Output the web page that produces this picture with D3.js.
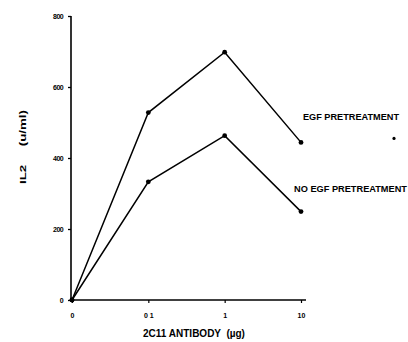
<!DOCTYPE html>
<html><head><meta charset="utf-8">
<script src="https://cdn.jsdelivr.net/npm/d3@7"></script>
<style>
body{margin:0;background:#fff;}
svg{display:block;}
text{font-family:"Liberation Sans",Arial,sans-serif;font-weight:bold;fill:#000;}
</style></head>
<body><svg id="c" width="408" height="342"></svg>
<script>
const doses = ["0","0.1","1","10"];
const doseLabels = ["0","0 1","1","10"];
const egf = [0, 528, 698, 444];
const noEgf = [0, 333, 463, 249];
const yTicks = [0, 200, 400, 600, 800];
const seriesNames = ["EGF PRETREATMENT", "NO EGF PRETREATMENT"];

const svg = d3.select("#c");
const x = d3.scalePoint().domain(doses).range([72, 301]);
const y = d3.scaleLinear().domain([0, 800]).range([300, 16]);

// y axis
const ya = svg.append("g").attr("transform","translate(71,0)")
  .call(d3.axisLeft(y).tickValues(yTicks).tickSize(3).tickPadding(5));
ya.select(".domain").attr("stroke","#000").attr("stroke-width",1.6).attr("d","M0,16V300");
ya.selectAll(".tick line").attr("stroke","#000").attr("stroke-width",1.3);
ya.selectAll(".tick text").style("font-size","7px").style("letter-spacing","-0.6px");

// x axis
const xa = svg.append("g").attr("transform","translate(0,300)")
  .call(d3.axisBottom(x).tickSize(3).tickPadding(10).tickFormat((d,i)=>doseLabels[i]));
xa.select(".domain").attr("stroke","#000").attr("stroke-width",1.5).attr("d","M71,0H306");
xa.selectAll(".tick line").attr("stroke","#000").attr("stroke-width",1.2);
xa.selectAll(".tick text").style("font-size","7px").style("white-space","pre");

// lines
const line = d3.line().x((d,i)=>x(doses[i])).y(d=>y(d));
[egf, noEgf].forEach(s=>{
  svg.append("path").attr("d", line(s)).attr("fill","none")
    .attr("stroke","#000").attr("stroke-width",1.5);
  svg.selectAll(null).data(s).enter().append("circle")
    .attr("cx",(d,i)=>x(doses[i])).attr("cy",d=>y(d)).attr("r",2.4).attr("fill","#000");
});

// series labels
svg.append("text").attr("x",303).attr("y",y(egf[3])-22)
  .attr("textLength",96).attr("lengthAdjust","spacingAndGlyphs")
  .style("font-size","8.5px").text(seriesNames[0]);
svg.append("circle").attr("cx",394).attr("cy",y(egf[3])-4).attr("r",1.6).attr("fill","#000");
svg.append("text").attr("x",294).attr("y",y(noEgf[3])-20)
  .attr("textLength",113).attr("lengthAdjust","spacingAndGlyphs")
  .style("font-size","8.5px").text(seriesNames[1]);

// axis titles
svg.append("text").attr("x",194).attr("y",337).attr("text-anchor","middle")
  .style("font-size","10px").style("white-space","pre").text("2C11 ANTIBODY  (\u00b5g)");
svg.append("text").attr("transform","translate(26,147) rotate(-90)").attr("text-anchor","middle")
  .attr("textLength",74).attr("lengthAdjust","spacingAndGlyphs")
  .style("font-size","9px").style("white-space","pre").text("IL2     (u/ml)");
</script></body></html>
